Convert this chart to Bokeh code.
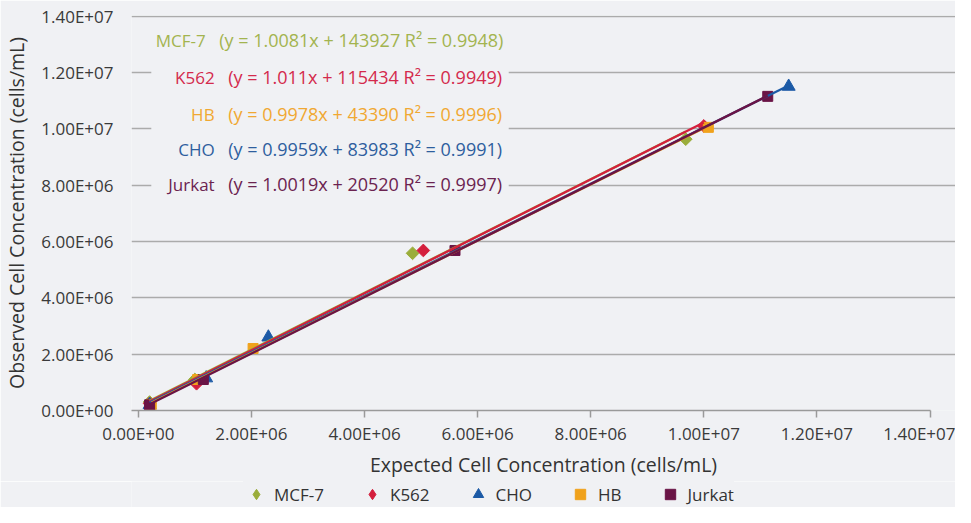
import math
from bokeh.plotting import figure
from bokeh.layouts import column
from bokeh.models import (ColumnDataSource, Range1d, FixedTicker, Legend, LegendItem,
                          BoxAnnotation)
from bokeh.core.properties import value
from bokeh.embed import file_html
from bokeh.resources import INLINE

# ---------------- data ----------------
series = ["MCF-7", "K562", "CHO", "HB", "Jurkat"]
colors = ["#9aad3a", "#d41f3d", "#1c5aa6", "#f0a21c", "#6a1446"]
text_colors = ["#a3b44f", "#d42a4c", "#2e5e9e", "#f0a832", "#6b2350"]
markers = ["diamond", "diamond", "triangle", "square", "square"]

mcf7_x = [0.2e6, 1.0e6, 4.85e6, 9.68e6]
mcf7_y = [0.3e6, 1.1e6, 5.58e6, 9.63e6]
k562_x = [0.2e6, 1.03e6, 5.04e6, 10.0e6]
k562_y = [0.25e6, 0.95e6, 5.68e6, 10.1e6]
cho_x = [0.2e6, 1.2e6, 2.3e6, 11.5e6]
cho_y = [0.2e6, 1.15e6, 2.6e6, 11.5e6]
hb_x = [0.23e6, 1.05e6, 2.03e6, 10.08e6]
hb_y = [0.21e6, 1.1e6, 2.2e6, 10.05e6]
jurkat_x = [0.2e6, 1.15e6, 5.6e6, 11.13e6]
jurkat_y = [0.2e6, 1.1e6, 5.68e6, 11.15e6]

slopes = [1.0081, 1.011, 0.9959, 0.9978, 1.0019]
intercepts = [143927, 115434, 83983, 43390, 20520]
r_squared = [0.9948, 0.9949, 0.9991, 0.9996, 0.9997]

# order of the equation block in the chart
eq_order = ["MCF-7", "K562", "HB", "CHO", "Jurkat"]

tick_values = [0, 2000000, 4000000, 6000000, 8000000, 10000000, 12000000, 14000000]
tick_labels = ["0.00E+00", "2.00E+06", "4.00E+06", "6.00E+06", "8.00E+06",
               "1.00E+07", "1.20E+07", "1.40E+07"]

xs_all = [mcf7_x, k562_x, cho_x, hb_x, jurkat_x]
ys_all = [mcf7_y, k562_y, cho_y, hb_y, jurkat_y]

# ---------------- style ----------------
BG = "#f0f1f4"
FONT = "Open Sans"
GRID = "#ababab"
W = 955

p = figure(width=W, height=481, output_backend="svg", toolbar_location=None,
           x_range=Range1d(-0.12e6, 14.45e6), y_range=Range1d(0, 14.02e6),
           min_border_left=122, min_border_right=0, min_border_top=15,
           min_border_bottom=71)
p.background_fill_color = BG
p.border_fill_color = BG
p.outline_line_color = None

p.xgrid.grid_line_color = None
p.ygrid.grid_line_color = GRID
p.ygrid.grid_line_width = 1.6

ticker = FixedTicker(ticks=tick_values)
overrides = dict(zip(tick_values, tick_labels))
p.xaxis.ticker = ticker
p.yaxis.ticker = ticker
p.xaxis.major_label_overrides = overrides
p.yaxis.major_label_overrides = overrides
p.xaxis.bounds = (-0.12e6, 14e6)

for ax in (p.xaxis[0], p.yaxis[0]):
    ax.major_label_text_font = FONT
    ax.major_label_text_font_size = "17px"
    ax.major_label_text_color = "#3a3a3a"
    ax.minor_tick_line_color = None
    ax.axis_label_text_font = FONT
    ax.axis_label_text_font_size = "19.5px"
    ax.axis_label_text_font_style = "normal"
    ax.axis_label_text_color = "#333333"

p.xaxis.axis_line_color = "#9a9a9a"
p.xaxis.axis_line_width = 1.5
p.xaxis.major_tick_line_color = "#9a9a9a"
p.xaxis.major_tick_line_width = 1.5
p.xaxis.major_tick_out = 7
p.xaxis.major_tick_in = 0
p.xaxis.major_label_standoff = 4
p.xaxis.axis_label = "Expected Cell Concentration (cells/mL)"
p.xaxis.axis_label_standoff = 3

p.yaxis.axis_line_color = None
p.yaxis.major_tick_line_color = None
p.yaxis.major_label_standoff = 12
p.yaxis.axis_label = "Observed Cell Concentration (cells/mL)"
p.yaxis.axis_label_standoff = 8

# background box behind the equation block (hides grid lines there)
box = BoxAnnotation(left=0.23e6, right=6.55e6, bottom=7.6e6, top=12.6e6,
                    fill_color=BG, fill_alpha=1.0, line_color=None, level="underlay")
p.add_layout(box)


def add_markers(fig, xs, ys, col, mk, legend_swatch=False):
    src = ColumnDataSource(dict(x=xs, y=ys))
    if mk == "diamond":
        if legend_swatch:
            return fig.scatter("x", "y", source=src, marker="diamond", size=14,
                               fill_color=col, line_color=col)
        return fig.scatter("x", "y", source=src, marker="square", size=9,
                           angle=math.pi / 4, fill_color=col, line_color=col)
    if mk == "triangle":
        return fig.scatter("x", "y", source=src, marker="triangle", size=13,
                           fill_color=col, line_color=col)
    return fig.scatter("x", "y", source=src, marker="square", size=10,
                       fill_color=col, line_color=col)


# markers
for xs, ys, col, mk in zip(xs_all, ys_all, colors, markers):
    add_markers(p, xs, ys, col, mk)

# trend lines from the fitted equations, over each series' x span
for xs, m, b, col in zip(xs_all, slopes, intercepts, colors):
    x0, x1 = min(xs), max(xs)
    p.line([x0, x1], [m * x0 + b, m * x1 + b], line_color=col, line_width=2.3)

# equation block
idx = [series.index(n) for n in eq_order]
eq_text = [f"(y = {slopes[i]}x + {intercepts[i]} R\u00b2 = {r_squared[i]})" for i in idx]
eq_rows_y = [13.14e6, 11.83e6, 10.52e6, 9.27e6, 8.03e6]
row_shift = [-9, 0, 0, 0, 0]
eq_src = ColumnDataSource(dict(
    y=eq_rows_y,
    name=eq_order,
    eq=eq_text,
    col=[text_colors[i] for i in idx],
    xo=row_shift,
))
p.text(x=1.35e6, y="y", text="name", source=eq_src, text_align="right",
       text_baseline="middle", text_font=value(FONT), text_font_size="17px",
       text_color="col", x_offset="xo")
p.text(x=1.59e6, y="y", text="eq", source=eq_src, text_align="left",
       text_baseline="middle", text_font=value(FONT), text_font_size="18px",
       text_color="col", x_offset="xo")

# ---------------- legend strip ----------------
lg = figure(width=W, height=26, output_backend="svg", toolbar_location=None,
            x_range=Range1d(0, 1), y_range=Range1d(0, 1),
            min_border=0, min_border_left=0, min_border_right=0,
            min_border_top=0, min_border_bottom=0)
lg.background_fill_color = BG
lg.border_fill_color = BG
lg.outline_line_color = None
lg.axis.visible = False
lg.grid.visible = False

# legend swatch renderers: one off-screen sample per series (only the legend shows them)
legend_items = []
for name, xs, ys, col, mk in zip(series, xs_all, ys_all, colors, markers):
    r = add_markers(lg, xs[:1], ys[:1], col, mk, legend_swatch=True)
    legend_items.append(LegendItem(label=name, renderers=[r]))

legend = Legend(items=legend_items, orientation="horizontal", location=(112, 0),
                background_fill_color=BG, background_fill_alpha=1.0,
                border_line_color=None, label_text_font=FONT,
                label_text_font_size="17px", label_text_color="#333333",
                spacing=35, glyph_width=26, glyph_height=26, label_standoff=5,
                padding=0, margin=0, label_height=16)
lg.add_layout(legend)

layout = column(p, lg, spacing=0)
open("out.html", "w").write(file_html(layout, INLINE))
